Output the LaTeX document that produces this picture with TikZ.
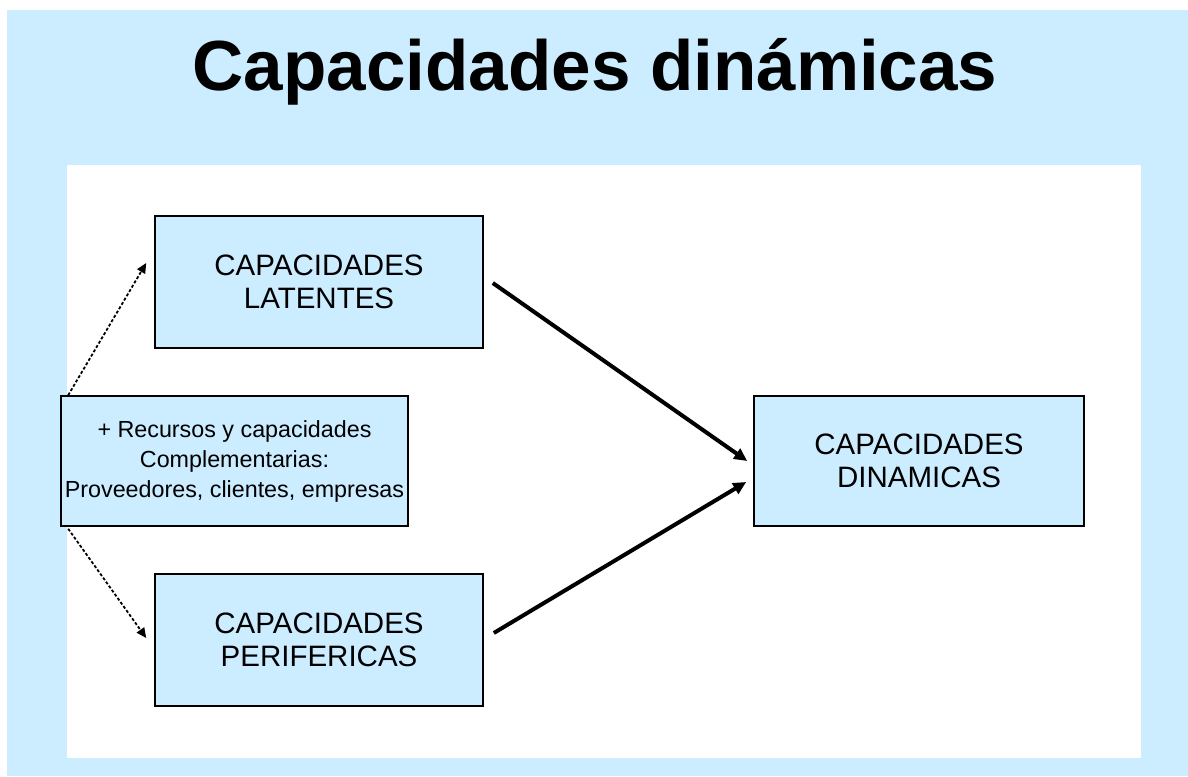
\documentclass[tikz,border=0pt]{standalone}
\usepackage{fontspec}
\setmainfont{Liberation Sans}
\usetikzlibrary{calc,arrows.meta}
\definecolor{lblue}{RGB}{204,236,255}
\begin{document}
\begin{tikzpicture}[x=1pt,y=-1pt,
  box/.style={draw=black,line width=1.6pt,fill=lblue,inner sep=0pt,align=center},
  bigbox/.style={box,minimum width=328pt,minimum height=132pt,font=\fontsize{29.5}{33}\selectfont},
  thick arrow/.style={line width=4pt,-{Triangle[length=13pt,width=12pt]}},
  dot arrow/.style={line width=1.8pt,dash pattern=on 3pt off 2pt,-{Triangle[length=10pt,width=9pt]}}]
\useasboundingbox (0,0) rectangle (1188,776);
\fill[white] (0,0) rectangle (1188,776);
\fill[lblue] (7,10) rectangle (1188,776);
\fill[white] (67,165) rectangle (1141,758);
\node[font=\fontsize{71}{71}\selectfont\bfseries] (title) at (595,72) {Capacidades dinámicas};
\node[bigbox] (lat) at (319,282) {CAPACIDADES\\LATENTES};
\node[bigbox] (peri) at (319,640) {CAPACIDADES\\PERIFERICAS};
\node[bigbox,minimum width=330pt,minimum height=130pt] (dyn) at (919,461) {CAPACIDADES\\DINAMICAS};
\node[box,minimum width=347pt,minimum height=130pt,font=\fontsize{23.3}{30}\selectfont] (rec) at (234.5,461) {+ Recursos y capacidades\\Complementarias:\\Proveedores, clientes, empresas};
\draw[dot arrow] ($(rec.north west)+(8,0)$) -- ($(lat.west)+(-8,-19)$);
\draw[dot arrow] ($(rec.south west)+(8,2)$) -- ($(peri.west)+(-8,-2)$);
\draw[thick arrow] ($(lat.east)+(9,1)$) -- ($(dyn.west)+(-6,0)$);
\draw[thick arrow] ($(peri.east)+(10,-7)$) -- ($(dyn.west)+(-7,21)$);
\end{tikzpicture}
\end{document}
